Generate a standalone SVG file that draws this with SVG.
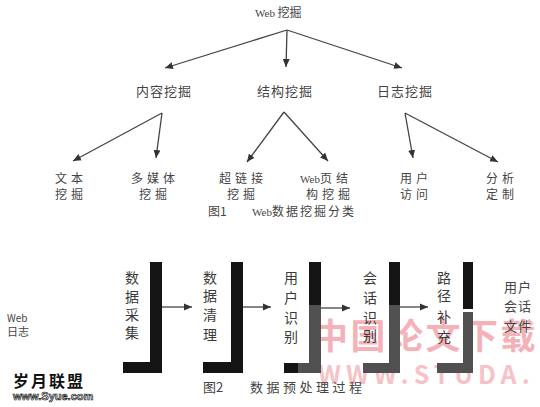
<svg xmlns="http://www.w3.org/2000/svg" width="540" height="407" viewBox="0 0 540 407">
<style>
.t{font-family:"Noto Sans CJK SC","Liberation Serif",serif;fill:#444;}
.l2{font-size:13px;letter-spacing:1px;}
.l3{font-size:12px;letter-spacing:4px;}
.v{font-size:14px;fill:#3a3a3a;text-anchor:middle;}
.e{stroke:#444;stroke-width:1.3;fill:none;marker-end:url(#ah);}
.bar{fill:#141414;}
.barg{fill:#505050;}
.wm{font-family:"Noto Sans CJK SC","Liberation Sans",sans-serif;font-weight:bold;}
</style>
<defs>
<marker id="ah" markerUnits="userSpaceOnUse" markerWidth="9" markerHeight="8" refX="8" refY="4" orient="auto">
<path d="M0,0.5 L8,4 L0,7.5 Z" fill="#333"/>
</marker>
</defs>
<rect width="540" height="407" fill="#fff"/>

<g id="watermark">
<text class="wm" x="313" y="349" font-size="35" letter-spacing="2.5" fill="#ee7f8a" opacity="0.6">中国论文下载</text>
<text class="wm" x="318" y="384" font-size="25" letter-spacing="5" fill="#f2a9b0" opacity="0.7" font-family="Liberation Sans">WWW.STUDA.</text>
<text class="wm" x="13" y="387" font-size="16" letter-spacing="2" fill="#111">岁月联盟</text>
<text x="13" y="400" font-size="11" font-weight="bold" font-family="Liberation Sans" fill="#fff" stroke="#111" stroke-width="0.7">www.Syue.com</text>
</g>

<g id="n-web">
<text class="t" x="255" y="17" font-size="12"><tspan font-family="Liberation Serif" font-size="11">Web</tspan> 挖掘</text>
</g>
<g id="n-content"><text class="t l2" x="136" y="96">内容挖掘</text></g>
<g id="n-structure"><text class="t l2" x="257" y="96">结构挖掘</text></g>
<g id="n-log"><text class="t l2" x="377" y="96">日志挖掘</text></g>

<g id="n-text"><text class="t l3" x="55" y="183">文本</text><text class="t l3" x="55" y="199">挖掘</text></g>
<g id="n-media"><text class="t l3" x="131" y="183">多媒体</text><text class="t l3" x="139" y="199">挖掘</text></g>
<g id="n-hyper"><text class="t l3" x="219" y="183">超链接</text><text class="t l3" x="227" y="199">挖掘</text></g>
<g id="n-page"><text class="t l3" x="300" y="183"><tspan font-family="Liberation Serif" font-size="11" letter-spacing="0">Web</tspan>页结</text><text class="t l3" x="306" y="199">构挖掘</text></g>
<g id="n-user"><text class="t l3" x="400" y="183">用户</text><text class="t l3" x="400" y="199">访问</text></g>
<g id="n-analysis"><text class="t l3" x="486" y="183">分析</text><text class="t l3" x="486" y="199">定制</text></g>

<g id="caption1"><text class="t" x="208" y="216" font-size="12">图1<tspan x="252" font-family="Liberation Serif" font-size="11">Web</tspan><tspan letter-spacing="2">数据挖掘分类</tspan></text></g>

<g id="connectors">
<path class="e" d="M287,30 L165,68"/>
<path class="e" d="M287,30 L286,67"/>
<path class="e" d="M287,30 L402,68"/>
<path class="e" d="M162,113 L73,161"/>
<path class="e" d="M162,113 L156,158"/>
<path class="e" d="M284,112 L247,162"/>
<path class="e" d="M284,112 L328,161"/>
<path class="e" d="M405,113 L413,158"/>
<path class="e" d="M405,113 L498,162"/>
<path class="e" d="M162,307 L192,307"/>
<path class="e" d="M243,307 L271,307"/>
<path class="e" d="M321,308 L350,308"/>
<path class="e" d="M400,307 L428,307"/>
</g>

<g id="n-weblog">
<text class="t" x="7" y="322" font-size="10" font-family="Liberation Serif" fill="#666">Web</text>
<text class="t" x="7" y="336" font-size="11" fill="#666">日志</text>
</g>

<g id="n-collect">
<path class="bar" d="M150,262 H162 V373 H123 V362 H150 Z"/>
<text class="t v"><tspan x="132" y="283">数</tspan><tspan x="132" y="302">据</tspan><tspan x="132" y="320">采</tspan><tspan x="132" y="338">集</tspan></text>
</g>
<g id="n-clean">
<path class="bar" d="M231,262 H243 V373 H203 V362 H231 Z"/>
<text class="t v"><tspan x="210" y="283">数</tspan><tspan x="210" y="301">据</tspan><tspan x="210" y="320">清</tspan><tspan x="210" y="340">理</tspan></text>
</g>
<g id="n-userid">
<path class="bar" d="M309,262 H321 V305 H309 Z"/>
<path class="barg" d="M309,305 H321 V373 H298 V363 H309 Z"/>
<path class="bar" d="M284,363 H298 V373 H284 Z"/>
<text class="t v"><tspan x="291" y="283">用</tspan><tspan x="291" y="303">户</tspan><tspan x="291" y="323">识</tspan><tspan x="291" y="342">别</tspan></text>
</g>
<g id="n-session">
<path class="bar" d="M389,262 H400 V305 H389 Z"/>
<path class="barg" d="M389,305 H400 V373 H363 V363 H389 Z"/>
<text class="t v"><tspan x="370" y="283">会</tspan><tspan x="370" y="303">话</tspan><tspan x="370" y="323">识</tspan><tspan x="370" y="341">别</tspan></text>
</g>
<g id="n-path">
<path class="bar" d="M463,262 H473 V309 H463 Z"/>
<path class="barg" d="M463,312 H473 V373 H437 V363 H463 Z"/>
<text class="t v"><tspan x="444" y="283">路</tspan><tspan x="444" y="301">径</tspan><tspan x="444" y="322">补</tspan><tspan x="444" y="342">充</tspan></text>
</g>
<g id="n-output">
<text class="t" font-size="13" letter-spacing="1" fill="#444"><tspan x="504" y="292">用户</tspan><tspan x="504" y="311">会话</tspan><tspan x="504" y="331">文件</tspan></text>
</g>

<g id="caption2"><text class="t" x="203" y="392" font-size="13">图2<tspan x="250" letter-spacing="3.5">数据预处理过程</tspan></text></g>
</svg>
